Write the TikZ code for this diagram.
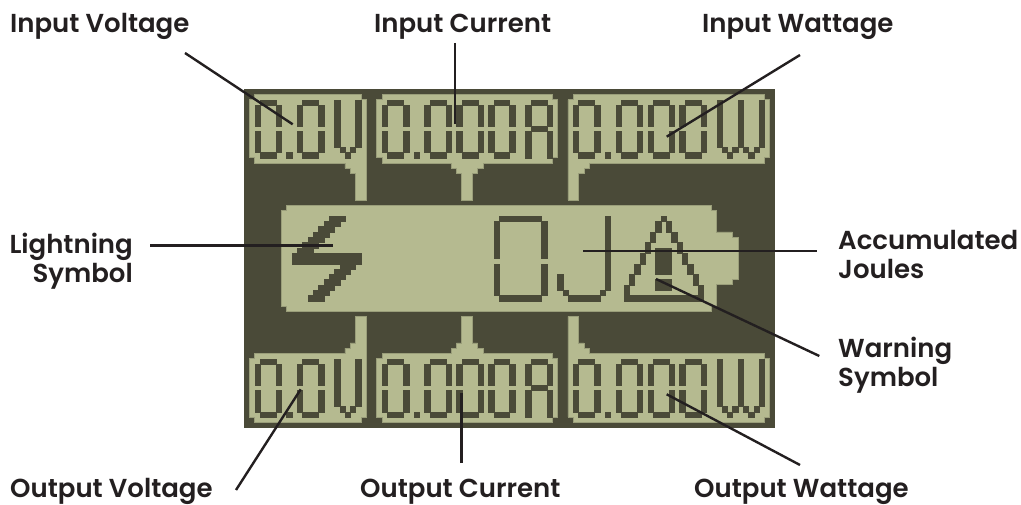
\documentclass[tikz,border=0pt]{standalone}
\usepackage{fontspec}
\usepackage{xcolor}
\setmainfont{Poppins}[BoldFont={Poppins SemiBold}]
\definecolor{lcdDark}{RGB}{74,74,56}
\definecolor{lcdLight}{RGB}{181,186,144}
\definecolor{inkBlack}{RGB}{35,31,32}

% Seven segment digit, column and top row as arguments
\newcommand{\lcddigit}[2]{
    \fill[seg] (#1+1,#2) rectangle (#1+4,#2+1);
    \fill[seg] (#1,#2+1) rectangle (#1+1,#2+5);
    \fill[seg] (#1+4,#2+1) rectangle (#1+5,#2+5);
    \fill[seg] (#1,#2+6) rectangle (#1+1,#2+10);
    \fill[seg] (#1+4,#2+6) rectangle (#1+5,#2+10);
    \fill[seg] (#1+1,#2+10) rectangle (#1+4,#2+11);
}
\newcommand{\lcddot}[2]{\fill[seg] (#1,#2+10) rectangle (#1+1,#2+11);}
\newcommand{\lcdvee}[2]{
    \fill[seg] (#1,#2) rectangle (#1+1,#2+9);
    \fill[seg] (#1+1,#2+9) rectangle (#1+2,#2+10);
    \fill[seg] (#1+2,#2+10) rectangle (#1+3,#2+11);
    \fill[seg] (#1+3,#2+9) rectangle (#1+4,#2+10);
    \fill[seg] (#1+4,#2) rectangle (#1+5,#2+9);
}
\newcommand{\lcdamp}[2]{
    \fill[seg] (#1+1,#2) rectangle (#1+4,#2+1);
    \fill[seg] (#1,#2+1) rectangle (#1+1,#2+5);
    \fill[seg] (#1+4,#2+1) rectangle (#1+5,#2+5);
    \fill[seg] (#1+1,#2+5) rectangle (#1+4,#2+6);
    \fill[seg] (#1,#2+6) rectangle (#1+1,#2+11);
    \fill[seg] (#1+4,#2+6) rectangle (#1+5,#2+11);
}

\begin{document}
\begin{tikzpicture}[
        x=1pt, y=-1pt,
        % One text style for every callout
        callout/.style={
            text=inkBlack, inner sep=0pt, align=left,
            font=\fontsize{26}{29}\selectfont\bfseries
        },
        % Thin black line from callout to display
        leader/.style={
            draw=inkBlack, line width=2.4pt
        },
        panel/.style={
            fill=lcdLight, draw=lcdLight!75!lcdDark, line width=0.6pt
        },
        seg/.style={
            fill=lcdDark, draw=lcdDark, line width=0.1pt
        }
    ]

        \useasboundingbox (0,0) rectangle (1021,505);

        % Display
        \fill[lcdDark] (244,89) rectangle (775,427.5);

        \begin{scope}[shift={(244,89)}, x=5.31pt, y=-5.29pt]
            % Upper panels
            \path[panel] (1,2) -- (2,2) -- (2,1) -- (22,1) -- (22,2) -- (23,2) -- (23,21) -- (21,21) -- (21,16) -- (20,16) -- (20,15) -- (19,15) -- (19,14) -- (2,14) -- (2,13) -- (1,13) -- cycle;
            \path[panel] (25,2) -- (26,2) -- (26,1) -- (58,1) -- (58,2) -- (59,2) -- (59,13) -- (58,13) -- (58,14) -- (45,14) -- (45,15) -- (44,15) -- (44,16) -- (43,16) -- (43,21) -- (41,21) -- (41,16) -- (40,16) -- (40,15) -- (39,15) -- (39,14) -- (26,14) -- (26,13) -- (25,13) -- cycle;
            \path[panel] (61,2) -- (62,2) -- (62,1) -- (98,1) -- (98,2) -- (99,2) -- (99,13) -- (98,13) -- (98,14) -- (65,14) -- (65,15) -- (64,15) -- (64,16) -- (63,16) -- (63,21) -- (61,21) -- cycle;

            % Battery panel
            \path[panel] (7,23) -- (8,23) -- (8,22) -- (88,22) -- (88,23) -- (89,23) -- (89,27) -- (92,27) -- (92,28) -- (93,28) -- (93,36) -- (92,36) -- (92,37) -- (89,37) -- (89,41) -- (88,41) -- (88,42) -- (8,42) -- (8,41) -- (7,41) -- cycle;

            % Lower panels
            \path[panel] (1,62) -- (2,62) -- (2,63) -- (22,63) -- (22,62) -- (23,62) -- (23,43) -- (21,43) -- (21,48) -- (20,48) -- (20,49) -- (19,49) -- (19,50) -- (2,50) -- (2,51) -- (1,51) -- cycle;
            \path[panel] (25,62) -- (26,62) -- (26,63) -- (58,63) -- (58,62) -- (59,62) -- (59,51) -- (58,51) -- (58,50) -- (45,50) -- (45,49) -- (44,49) -- (44,48) -- (43,48) -- (43,43) -- (41,43) -- (41,48) -- (40,48) -- (40,49) -- (39,49) -- (39,50) -- (26,50) -- (26,51) -- (25,51) -- cycle;
            \path[panel] (61,62) -- (62,62) -- (62,63) -- (98,63) -- (98,62) -- (99,62) -- (99,51) -- (98,51) -- (98,50) -- (65,50) -- (65,49) -- (64,49) -- (64,48) -- (63,48) -- (63,43) -- (61,43) -- cycle;

            % Readouts, same columns top and bottom
            \foreach \rowtop in {2,51} {
                \lcddigit{2}{\rowtop} \lcddot{8}{\rowtop} \lcddigit{10}{\rowtop} \lcdvee{17}{\rowtop}
                \lcddigit{26}{\rowtop} \lcddot{32}{\rowtop} \lcddigit{34}{\rowtop} \lcddigit{40}{\rowtop} \lcddigit{46}{\rowtop} \lcdamp{53}{\rowtop}
                \lcddigit{62}{\rowtop} \lcddot{68}{\rowtop} \lcddigit{70}{\rowtop} \lcddigit{76}{\rowtop} \lcddigit{82}{\rowtop} \lcdvee{89}{\rowtop} \lcdvee{93}{\rowtop}
            }

            % Lightning bolt
            \foreach \i in {0,...,6} {
                \fill[seg] (16-\i,24+\i) rectangle (19-\i,25+\i);
                \fill[seg] (18-\i,33+\i) rectangle (21-\i,34+\i);
            }
            \fill[seg] (9,31) rectangle (22,33);

            % Large zero
            \fill[seg] (48,24) rectangle (56,25);
            \fill[seg] (47,25) rectangle (48,32);
            \fill[seg] (56,25) rectangle (57,32);
            \fill[seg] (47,33) rectangle (48,39);
            \fill[seg] (56,33) rectangle (57,39);
            \fill[seg] (48,39) rectangle (56,40);

            % Large J
            \fill[seg] (68,24) rectangle (69,38);
            \fill[seg] (67,38) rectangle (68,39);
            \fill[seg] (61,39) rectangle (67,40);
            \fill[seg] (60,38) rectangle (61,39);
            \fill[seg] (59,35) rectangle (60,38);

            % Warning triangle
            \fill[seg] (78.5,24) rectangle (79.5,25);
            \foreach \i in {1,...,7} {
                \fill[seg] (78.5-\i,23+2*\i) rectangle (79.5-\i,25+2*\i);
                \fill[seg] (78.5+\i,23+2*\i) rectangle (79.5+\i,25+2*\i);
            }
            \fill[seg] (71.5,39) rectangle (86.5,40);
            \fill[seg] (77.5,30) rectangle (80.5,35);
            \fill[seg] (77.5,36) rectangle (80.5,38);
        \end{scope}

        % Callouts
        \node[callout, anchor=base west] (lblInV) at (10,33) {Input Voltage};
        \node[callout, anchor=base west] (lblInA) at (374,33) {Input Current};
        \node[callout, anchor=base west] (lblInW) at (702,33) {Input Wattage};
        \node[callout, anchor=north east, align=right] (lblBolt) at (133,233) {Lightning\\Symbol};
        \node[callout, anchor=north west] (lblJoules) at (838,230) {Accumulated\\Joules};
        \node[callout, anchor=north west] (lblWarn) at (838,337) {Warning\\Symbol};
        \node[callout, anchor=base west] (lblOutV) at (10,497) {Output Voltage};
        \node[callout, anchor=base west] (lblOutA) at (360,497) {Output Current};
        \node[callout, anchor=base west] (lblOutW) at (694,497) {Output Wattage};

        % Leader ends
        \coordinate (fromInV) at (185,53);
        \coordinate (toInV) at (292.7,124.3);
        \coordinate (fromInA) at (454.7,43);
        \coordinate (toInA) at (454.7,124.3);
        \coordinate (fromInW) at (800,55);
        \coordinate (toInW) at (666.7,136.7);
        \coordinate (fromBolt) at (150,245.7);
        \coordinate (toBolt) at (332.7,245.7);
        \coordinate (fromJoules) at (816.7,251);
        \coordinate (toJoules) at (583.3,251);
        \coordinate (fromWarn) at (819.3,356);
        \coordinate (toWarn) at (656,279);
        \coordinate (fromOutV) at (236,490);
        \coordinate (toOutV) at (300.7,389.3);
        \coordinate (fromOutA) at (461.3,463);
        \coordinate (toOutA) at (461.3,392.7);
        \coordinate (fromOutW) at (800,465);
        \coordinate (toOutW) at (666.7,394.3);

        % Connections
        \draw[leader] (fromInV) -- (toInV);
        \draw[leader] (fromInA) -- (toInA);
        \draw[leader] (fromInW) -- (toInW);
        \draw[leader] (fromBolt) -- (toBolt);
        \draw[leader] (fromJoules) -- (toJoules);
        \draw[leader] (fromWarn) -- (toWarn);
        \draw[leader] (fromOutV) -- (toOutV);
        \draw[leader] (fromOutA) -- (toOutA);
        \draw[leader] (fromOutW) -- (toOutW);

    \end{tikzpicture}
\end{document}
